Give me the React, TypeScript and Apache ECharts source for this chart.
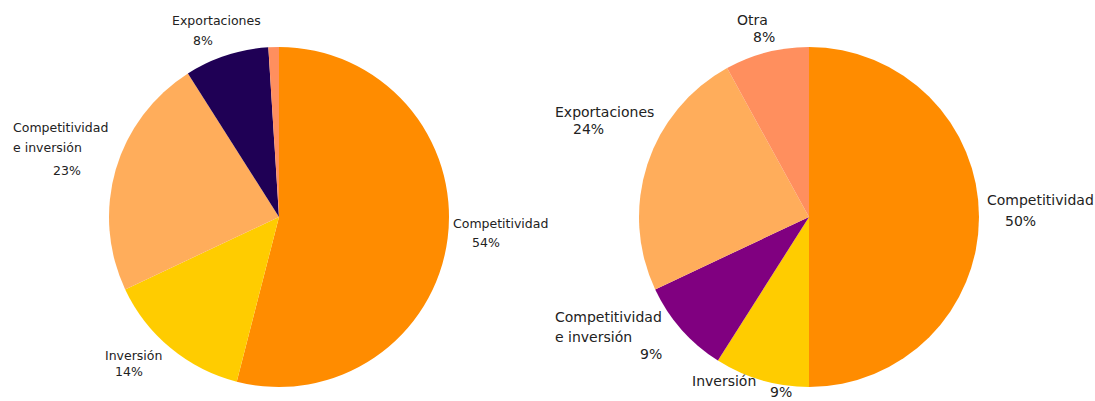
import React, { useEffect, useRef } from "react";
import * as echarts from "echarts";

// ---- data ----
const leftNames = ["Competitividad", "Inversión", "Competitividad\ne inversión", "Exportaciones", "Otra"];
const leftValues = [54, 14, 23, 8, 1];
const leftColors = ["#FF8C00", "#FFCC00", "#FFAD5B", "#1F0055", "#FF8F5E"];

const rightNames = ["Competitividad", "Inversión", "Competitividad\ne inversión", "Exportaciones", "Otra"];
const rightValues = [50, 9, 9, 24, 8];
const rightColors = ["#FF8C00", "#FFCC00", "#800080", "#FFAD5B", "#FF8F5E"];

// ---- label layout: [x, firstLineCenterY, lineStep, pctX, pctCenterY] ----
const leftLabelPos: (number[] | null)[] = [
  [453, 223, 19, 472, 242],
  [105, 355, 16, 115, 371],
  [13, 127, 20, 53, 170],
  [172, 20, 20, 193, 40],
  null,
];
const rightLabelPos: (number[] | null)[] = [
  [987, 200, 21, 1005, 221],
  [692, 381, 16, 770, 392],
  [555, 317, 20, 640, 354],
  [555, 112, 17, 573, 129],
  [737, 20, 17, 753, 37],
];

function buildData(names: string[], values: number[], colors: string[], pos: (number[] | null)[], fontSize: number) {
  return names.map((name, i) => {
    const p = pos[i];
    if (!p) {
      return { name, value: values[i], itemStyle: { color: colors[i] }, label: { show: false } };
    }
    const [x, y1, step, px, py] = p;
    const lines = name.split("\n");
    const top = y1 - step / 2;
    const h = Math.max(2, 2 * (py - top - lines.length * step));
    const formatter = lines.map((l) => `{n|${l}}`).join("\n") + `\n{p|${values[i]}%}`;
    return {
      name,
      value: values[i],
      itemStyle: { color: colors[i] },
      label: {
        show: true,
        formatter,
        rich: {
          n: { fontSize, lineHeight: step, color: "#222", fontFamily: "DejaVu Sans" },
          p: { fontSize, lineHeight: h, color: "#222", fontFamily: "DejaVu Sans", padding: [0, 0, 0, px - x] },
        },
      },
    };
  });
}

export default function App() {
  const ref = useRef<HTMLDivElement>(null);
  useEffect(() => {
    if (!ref.current) return;
    const chart = echarts.init(ref.current, null, { renderer: "svg" });
    const allPos = [leftLabelPos, rightLabelPos];
    const layout = (params: any) => {
      const p = allPos[params.seriesIndex]?.[params.dataIndex];
      if (!p) return {};
      return { x: p[0], y: p[1] - p[2] / 2, align: "left", verticalAlign: "top" };
    };
    chart.setOption({
      animation: false,
      backgroundColor: "#ffffff",
      series: [
        {
          type: "pie",
          center: [279, 217],
          radius: 170,
          startAngle: 90,
          clockwise: true,
          avoidLabelOverlap: false,
          label: { position: "outside" },
          labelLine: { show: false },
          labelLayout: layout,
          emphasis: { disabled: true },
          data: buildData(leftNames, leftValues, leftColors, leftLabelPos, 12.5),
        },
        {
          type: "pie",
          center: [809, 217],
          radius: 170,
          startAngle: 90,
          clockwise: true,
          avoidLabelOverlap: false,
          label: { position: "outside" },
          labelLine: { show: false },
          labelLayout: layout,
          emphasis: { disabled: true },
          data: buildData(rightNames, rightValues, rightColors, rightLabelPos, 14),
        },
      ],
    });
    return () => chart.dispose();
  }, []);
  return (
    <div
      ref={ref}
      style={{ position: "fixed", left: 0, top: 0, width: 1095, height: 401 }}
    />
  );
}
